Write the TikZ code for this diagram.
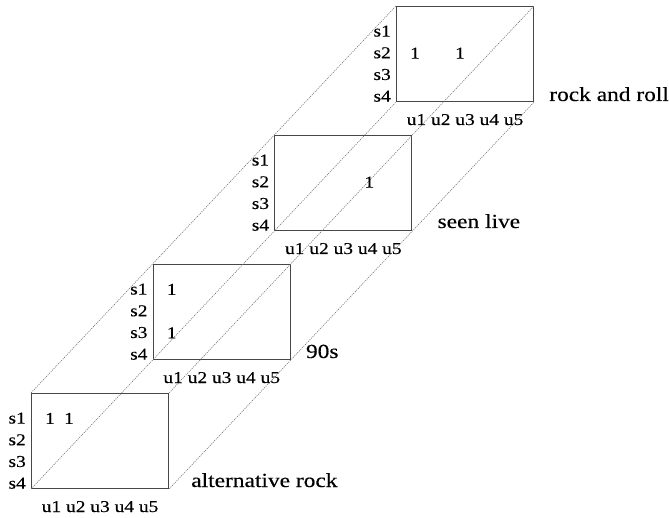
\documentclass[tikz,border=0pt]{standalone}
\usepackage{fontspec}
\setmainfont[FakeStretch=1.17, FakeBold=0.3]{Liberation Serif}
\usepackage{tikz}
\newcommand{\labfont}{\fontsize{16.6}{21.7}\selectfont}
\newcommand{\namefont}{\fontsize{20}{24}\selectfont}
\tikzset{
  slice/.style={draw=black!72, line width=1.1pt, minimum width=137pt, minimum height=95pt, inner sep=0pt, anchor=south west},
  guide/.style={draw=black!55, line width=0.55pt, dash pattern=on 1.2pt off 1pt},
  rowlab/.style={font=\labfont, align=right, inner sep=0pt, anchor=south east},
  collab/.style={font=\labfont, inner sep=0pt, anchor=base},
  cell/.style={font=\labfont, inner sep=0pt, anchor=base},
  tag/.style={font=\namefont, inner sep=0pt, anchor=base west}
}

\begin{document}
\begin{tikzpicture}[x=1pt, y=1pt]
	\useasboundingbox (0,0) rectangle (669,517);
	% the four slices, one behind the other
	\node[slice] (b1) at (31,28) {};
	\node[slice] (b2) at (152.7,157) {};
	\node[slice] (b3) at (274.3,286) {};
	\node[slice] (b4) at (396,415) {};
	\path[guide]
	(b1.north west) edge (b4.north west)
	(b1.north east) edge (b4.north east)
	(b1.south west) edge (b4.south west)
	(b1.south east) edge (b4.south east);
	% row and column labels
	\node[rowlab] (r1) at ([xshift=-5pt]b1.south west) {s1\\s2\\s3\\s4};
	\node[rowlab] (r2) at ([xshift=-5pt]b2.south west) {s1\\s2\\s3\\s4};
	\node[rowlab] (r3) at ([xshift=-5pt]b3.south west) {s1\\s2\\s3\\s4};
	\node[rowlab] (r4) at ([xshift=-5pt]b4.south west) {s1\\s2\\s3\\s4};
	\node[collab] (u1) at ([yshift=-23pt]b1.south) {u1 u2 u3 u4 u5};
	\node[collab] (u2) at ([yshift=-23pt]b2.south) {u1 u2 u3 u4 u5};
	\node[collab] (u3) at ([yshift=-23pt]b3.south) {u1 u2 u3 u4 u5};
	\node[collab] (u4) at ([yshift=-23pt]b4.south) {u1 u2 u3 u4 u5};
	% entries
	\node[cell] (c1a) at ([shift={(19pt,65.1pt)}]b1.south west) {1};
	\node[cell] (c1b) at ([shift={(38pt,65.1pt)}]b1.south west) {1};
	\node[cell] (c2a) at ([shift={(19pt,65.1pt)}]b2.south west) {1};
	\node[cell] (c2b) at ([shift={(19pt,21.7pt)}]b2.south west) {1};
	\node[cell] (c3a) at ([shift={(95pt,43.4pt)}]b3.south west) {1};
	\node[cell] (c4a) at ([shift={(19pt,43.4pt)}]b4.south west) {1};
	\node[cell] (c4b) at ([shift={(64pt,43.4pt)}]b4.south west) {1};
	% slice names
	\node[tag] (n1) at ([shift={(22pt,2pt)}]b1.south east) {alternative rock};
	\node[tag] (n2) at ([shift={(15pt,2pt)}]b2.south east) {90s};
	\node[tag] (n3) at ([shift={(25pt,3pt)}]b3.south east) {seen live};
	\node[tag] (n4) at ([shift={(15pt,1pt)}]b4.south east) {rock and roll};
\end{tikzpicture}
\end{document}
